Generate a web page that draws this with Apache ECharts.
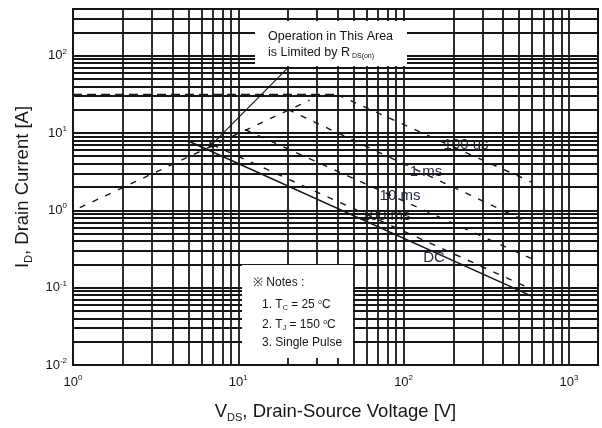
<!DOCTYPE html>
<html>
<head>
<meta charset="utf-8">
<script src="https://cdn.jsdelivr.net/npm/echarts@6/dist/echarts.min.js"></script>
<style>html,body{margin:0;background:#fff}#chart{width:602px;height:428px}</style>
</head>
<body>
<div id="chart"></div>
<script>
// safe operating area curves, [V_DS (V), I_D (A)]
const rdsLimit = [[1.1, 1.08], [27, 26.5]];
const flat100us = [[1, 31], [40, 31]];
const slope100us = [[40, 31], [600, 2.3]];
const curve1ms = [[20, 20], [600, 0.66]];
const curve10ms = [[11, 11], [600, 0.235]];
const curve100ms = [[7, 7], [600, 0.095]];
const curveDC = [[5.1, 7.7], [600, 0.077]];
const arrowFrom = [20, 70];
const arrowTo = [6.6, 6.4];

// log grid
const xGrid = [2, 3, 4, 5, 6, 7, 8, 9, 10, 20, 30, 40, 50, 60, 70, 80, 90, 100,
  200, 300, 400, 500, 600, 700, 800, 900, 1000];
const yGrid = [0.02, 0.03, 0.04, 0.05, 0.06, 0.07, 0.08, 0.09, 0.1,
  0.2, 0.3, 0.4, 0.5, 0.6, 0.7, 0.8, 0.9, 1, 2, 3, 4, 5, 6, 7, 8, 9, 10,
  20, 30, 40, 50, 60, 70, 80, 90, 100, 200, 300];

const FONT = 'Liberation Sans, Arial, sans-serif';
const INK = '#161616';
const LABEL_INK = '#262c40';

function powLabel(v) {
  const e = Math.round(Math.log10(v));
  if (Math.abs(v - Math.pow(10, e)) / v > 1e-6) return '';
  return '{b|10}{s|' + e + '}';
}
const powRich = {
  b: { fontSize: 13, fontFamily: FONT, color: INK, lineHeight: 16 },
  s: { fontSize: 8, fontFamily: FONT, color: INK, verticalAlign: 'top', lineHeight: 8 }
};
const nameRich = {
  n: { fontSize: 18.5, fontFamily: FONT, color: INK, lineHeight: 22 },
  sub: { fontSize: 11, fontFamily: FONT, color: INK, verticalAlign: 'bottom', lineHeight: 15 }
};

const curveStyle = { color: INK, width: 1.4, type: [6, 8] };
function curve(name, data, style) {
  return { name, type: 'line', data, symbol: 'none', z: 3, lineStyle: style || curveStyle };
}

const chart = echarts.init(document.getElementById('chart'));
chart.setOption({
  animation: false,
  backgroundColor: '#fff',
  grid: { left: 73, top: 9, right: 4, bottom: 61, show: true, borderColor: INK, borderWidth: 2 },
  xAxis: {
    type: 'log', logBase: 10, min: 1, max: 1500,
    axisLine: { show: false }, axisTick: { show: false },
    splitLine: { show: false },
    axisLabel: { formatter: powLabel, rich: powRich, margin: 9, showMaxLabel: false },
    name: '{n|V}{sub|DS}{n|, Drain-Source Voltage [V]}',
    nameLocation: 'middle', nameGap: 36,
    nameTextStyle: { rich: nameRich }
  },
  yAxis: {
    type: 'log', logBase: 10, min: 0.01, max: 400,
    axisLine: { show: false }, axisTick: { show: false },
    splitLine: { show: false },
    axisLabel: { formatter: powLabel, rich: powRich, margin: 6, showMaxLabel: false },
    name: '{n|I}{sub|D}{n|, Drain Current [A]}',
    nameLocation: 'middle', nameGap: 39,
    nameTextStyle: { rich: nameRich }
  },
  series: [
    {
      name: 'grid', type: 'line', data: [], z: 1, silent: true,
      markLine: {
        silent: true, symbol: ['none', 'none'], label: { show: false },
        lineStyle: { color: INK, width: 1.8, type: 'solid' },
        data: xGrid.map(v => ({ xAxis: v })).concat(yGrid.map(v => ({ yAxis: v })))
      }
    },
    curve('RDS(on)', rdsLimit),
    curve('100 us flat', flat100us, { color: INK, width: 2.5, type: [9, 5] }),
    curve('100 us', slope100us),
    curve('1 ms', curve1ms),
    curve('10 ms', curve10ms),
    curve('100 ms', curve100ms),
    curve('DC', curveDC, { color: INK, width: 1.5, type: 'solid' }),
    {
      name: 'arrow', type: 'line', data: [], z: 4,
      markLine: {
        silent: true, symbol: ['none', 'arrow'], symbolSize: 7, label: { show: false },
        lineStyle: { color: INK, width: 1.1, type: 'solid' },
        data: [[{ coord: arrowFrom }, { coord: arrowTo }]]
      }
    }
  ],
  graphic: [
    { type: 'rect', z: 50, shape: { x: 255, y: 21, width: 152, height: 45 }, style: { fill: '#fff' } },
    { type: 'rect', z: 50, shape: { x: 242, y: 265, width: 111, height: 93 }, style: { fill: '#fff' } },
    { type: 'text', z: 51, x: 268, y: 37, style: { text: 'Operation in This Area', font: '12.5px ' + FONT, fill: INK, verticalAlign: 'middle' } },
    {
      type: 'text', z: 51, x: 268, y: 53, style: {
        text: '{t|is Limited by R}{s| DS(on)}', verticalAlign: 'middle',
        rich: { t: { fontSize: 12.5, fontFamily: FONT, fill: INK }, s: { fontSize: 7, fontFamily: FONT, fill: INK, verticalAlign: 'bottom', padding: [6, 0, 0, 0] } }
      }
    },
    { type: 'text', z: 51, x: 253, y: 283, style: { text: '\u203B Notes :', font: '12px ' + FONT, fill: INK, verticalAlign: 'middle' } },
    {
      type: 'text', z: 51, x: 262, y: 305, style: {
        text: '{t|1. T}{sub|C}{t| = 25 }{sup|o}{t|C}', verticalAlign: 'middle',
        rich: {
          t: { fontSize: 12, fontFamily: FONT, fill: INK },
          sub: { fontSize: 7, fontFamily: FONT, fill: INK, verticalAlign: 'bottom', padding: [6, 0, 0, 0] },
          sup: { fontSize: 7, fontFamily: FONT, fill: INK, verticalAlign: 'top', padding: [0, 0, 6, 0] }
        }
      }
    },
    {
      type: 'text', z: 51, x: 262, y: 325, style: {
        text: '{t|2. T}{sub|J}{t| = 150 }{sup|o}{t|C}', verticalAlign: 'middle',
        rich: {
          t: { fontSize: 12, fontFamily: FONT, fill: INK },
          sub: { fontSize: 7, fontFamily: FONT, fill: INK, verticalAlign: 'bottom', padding: [6, 0, 0, 0] },
          sup: { fontSize: 7, fontFamily: FONT, fill: INK, verticalAlign: 'top', padding: [0, 0, 6, 0] }
        }
      }
    },
    { type: 'text', z: 51, x: 262, y: 343, style: { text: '3. Single Pulse', font: '12px ' + FONT, fill: INK, verticalAlign: 'middle' } },
    { type: 'text', z: 0, x: 466, y: 145, style: { text: '100 us', font: '15px ' + FONT, fill: LABEL_INK, align: 'center', verticalAlign: 'middle' } },
    { type: 'text', z: 0, x: 426, y: 172, style: { text: '1 ms', font: '15px ' + FONT, fill: LABEL_INK, align: 'center', verticalAlign: 'middle' } },
    { type: 'text', z: 0, x: 400, y: 196, style: { text: '10 ms', font: '15px ' + FONT, fill: LABEL_INK, align: 'center', verticalAlign: 'middle' } },
    { type: 'text', z: 0, x: 386, y: 216, style: { text: '100 ms', font: '15px ' + FONT, fill: LABEL_INK, align: 'center', verticalAlign: 'middle' } },
    { type: 'text', z: 0, x: 434, y: 258, style: { text: 'DC', font: '15px ' + FONT, fill: LABEL_INK, align: 'center', verticalAlign: 'middle' } }
  ]
});
</script>
</body>
</html>
